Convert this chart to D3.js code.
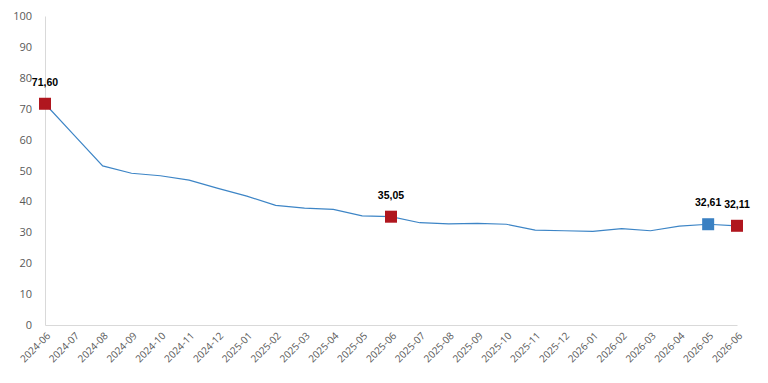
<!DOCTYPE html>
<head>
  <meta charset="utf-8">
  <script src="https://d3js.org/d3.v7.min.js"></script>
  <style>
    body { margin:0; background:#fff; font-family: "Open Sans", sans-serif; }
  </style>
</head>
<body>
  <script>
    var months = ["2024-06","2024-07","2024-08","2024-09","2024-10","2024-11","2024-12",
      "2025-01","2025-02","2025-03","2025-04","2025-05","2025-06","2025-07","2025-08",
      "2025-09","2025-10","2025-11","2025-12","2026-01","2026-02","2026-03","2026-04",
      "2026-05","2026-06"];
    var values = [71.60, 61.5, 51.5, 49.1, 48.3, 46.9, 44.2, 41.7, 38.7, 37.8, 37.4, 35.3,
      35.05, 33.1, 32.7, 32.9, 32.6, 30.7, 30.5, 30.3, 31.2, 30.5, 32.0, 32.61, 32.11];
    var yTicks = [0, 10, 20, 30, 40, 50, 60, 70, 80, 90, 100];
    // highlighted points: index into months, label text, colour
    var marked = [
      { i: 0, label: "71,60", color: "#b0161e" },
      { i: 12, label: "35,05", color: "#b0161e" },
      { i: 23, label: "32,61", color: "#3a80c2" },
      { i: 24, label: "32,11", color: "#b0161e" }
    ];

    var W = 768, H = 383;
    var plotL = 45, plotR = 737, plotT = 16, plotB = 325;

    var svg = d3.select("body").append("svg")
      .attr("width", W)
      .attr("height", H);

    var x = d3.scalePoint()
      .domain(months)
      .range([plotL, plotR]);

    var y = d3.scaleLinear()
      .domain([0, 100])
      .range([plotB, plotT]);

    // axes
    var yaxis = svg.append('g')
      .attr('transform', 'translate(' + plotL + ',0)')
      .call(d3.axisLeft(y).tickValues(yTicks).tickSize(0).tickPadding(13));
    yaxis.select('.domain').attr('stroke', '#d9d9d9');
    yaxis.selectAll('text')
      .style('font-size', '11px')
      .style('font-family', '"Open Sans", sans-serif')
      .attr('fill', '#595959');

    var xaxis = svg.append('g')
      .attr('transform', 'translate(0,' + plotB + ')')
      .call(d3.axisBottom(x).tickSize(0).tickPadding(6));
    xaxis.select('.domain').attr('stroke', '#d9d9d9');
    xaxis.selectAll('text')
      .attr('transform', 'translate(3,9) rotate(-45)')
      .attr('text-anchor', 'end')
      .attr('dy', '0.35em')
      .attr('x', 0)
      .attr('y', 0)
      .style('font-size', '10px')
      .style('font-family', '"Open Sans", sans-serif')
      .attr('fill', '#595959');

    // line
    var line = d3.line()
      .x(function(d, i) { return x(months[i]); })
      .y(function(d) { return y(d); });

    svg.append('path')
      .datum(values)
      .attr('d', line)
      .attr('fill', 'none')
      .attr('stroke', '#3d85c6')
      .attr('stroke-width', 1.2);

    // markers
    var s = 12;
    svg.selectAll('.mk')
      .data(marked)
      .enter()
      .append('rect')
      .attr('class', 'mk')
      .attr('x', function(d) { return x(months[d.i]) - s / 2; })
      .attr('y', function(d) { return y(values[d.i]) - s / 2; })
      .attr('width', s)
      .attr('height', s)
      .attr('fill', function(d) { return d.color; });

    svg.selectAll('.lbl')
      .data(marked)
      .enter()
      .append('text')
      .attr('class', 'lbl')
      .attr('x', function(d) { return x(months[d.i]); })
      .attr('y', function(d) { return y(values[d.i]) - 18; })
      .attr('text-anchor', 'middle')
      .style('font-size', '10.5px')
      .style('font-weight', 'bold')
      .style('font-family', '"Liberation Sans", Arial, sans-serif')
      .attr('fill', '#000')
      .text(function(d) { return d.label; });
  </script>
</body>
